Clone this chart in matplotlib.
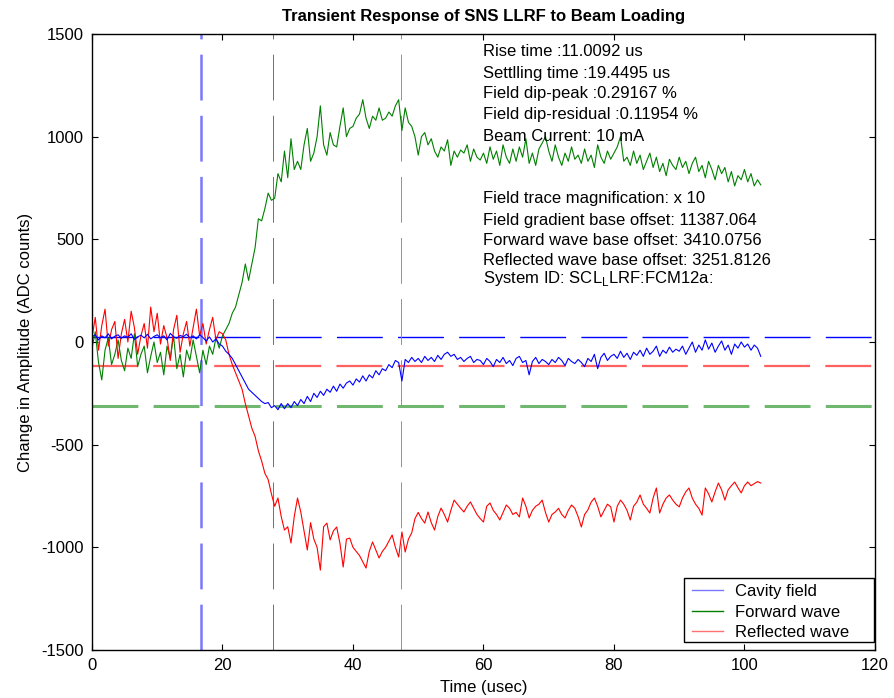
#! /usr/bin/env python3
import numpy as np
import matplotlib
matplotlib.use('Agg')
import matplotlib.pyplot as plt
from matplotlib.lines import Line2D
from matplotlib.patches import Rectangle

plt.rcParams['font.family'] = ['Liberation Sans', 'DejaVu Sans']
plt.rcParams['lines.scale_dashes'] = False
plt.rcParams['axes.unicode_minus'] = False

cavity = [
    25, 35, 10, 30, 20, 40, 15, 28, 35, 18,
    30, 22, 40, 12, 25, 33, 20, 38, 15, 27,
    35, 20, 30, 10, 42, 25, 18, 32, 26, 38,
    20, 30, 15, 35, 22, 5, 25, 0, 15, -10,
    -20, -45, -60, -80, -110, -140, -170, -200, -230, -245,
    -260, -275, -290, -300, -295, -320, -310, -330, -300, -325,
    -300, -320, -290, -310, -280, -300, -265, -290, -250, -270,
    -240, -260, -230, -245, -215, -240, -205, -225, -200, -190,
    -210, -180, -195, -165, -190, -160, -175, -140, -160, -130,
    -140, -110, -125, -90, -100, -190, -85, -100, -75, -95,
    -80, -100, -70, -90, -75, -95, -65, -85, -60, -50,
    -70, -60, -85, -75, -95, -80, -70, -100, -85, -90,
    -110, -80, -95, -120, -85, -100, -75, -105, -90, -115,
    -80, -70, -100, -90, -160, -95, -75, -105, -85, -95,
    -110, -85, -100, -75, -90, -115, -80, -95, -105, -85,
    -100, -120, -80, -95, -60, -130, -75, -55, -90, -70,
    -60, -80, -45, -75, -55, -85, -50, -65, -40, -70,
    -30, -60, -45, -20, -70, -40, -55, -25, -50, -35,
    -45, -20, -60, -30, 0, -50, -15, -40, 10, -35,
    -5, -50, -20, 5, -40, -15, -60, -10, -30, 0,
    -25, -10, -40, -15, -30, -70,
]

forward = [
    -30, 50, -100, -185, -40, 20, -110, -60, 10, -90,
    -140, -30, -80, 40, -120, -60, -20, -150, -70, 0,
    -100, -50, -160, -20, -80, 30, -130, -60, -170, -40,
    -90, 10, -70, -150, -40, -110, -20, -60, 20, -30,
    30, 60, 90, 140, 170, 230, 290, 380, 300, 380,
    460, 600, 590, 650, 725, 690, 700, 820, 780, 930,
    800, 990, 840, 880, 840, 960, 1040, 880, 920, 1000,
    1150, 960, 910, 1020, 960, 950, 1050, 1140, 1000, 1040,
    1050, 1090, 1110, 1180, 1090, 1040, 1100, 1080, 1140, 1080,
    1090, 1120, 1100, 1150, 1180, 1030, 1140, 1070, 1050, 1000,
    910, 1000, 1020, 960, 990, 930, 900, 950, 930, 985,
    860, 930, 900, 935, 920, 960, 880, 940, 900, 886,
    920, 870, 950, 890, 930, 860, 960, 900, 870, 940,
    880, 950, 900, 990, 870, 920, 860, 940, 969, 1000,
    930, 880, 960, 900, 860, 920, 880, 950, 890, 910,
    870, 940, 880, 910, 850, 960, 900, 870, 930, 890,
    920, 950, 1000, 880, 900, 860, 930, 870, 910, 840,
    880, 920, 850, 900, 830, 870, 810, 890, 860, 840,
    900, 850, 880, 820, 870, 900, 830, 860, 800, 880,
    840, 790, 860, 820, 850, 780, 830, 760, 810, 790,
    840, 780, 820, 760, 790, 765,
]

reflected = [
    20, 120, -40, 80, 160, -20, 60, 100, -80, 40,
    110, 0, 150, 70, -60, 30, 90, -30, 170, 50,
    140, -10, 80, 20, -90, 60, 130, -50, 40, 100,
    -20, 70, 160, 30, 90, -10, 60, 120, 10, 50,
    40, 10, -60, -110, -150, -190, -230, -300, -360, -420,
    -460, -530, -580, -640, -670, -740, -800, -760, -850, -916,
    -900, -979, -850, -760, -828, -920, -1013, -880, -960, -1000,
    -1111, -900, -882, -964, -920, -901, -980, -1096, -960, -955,
    -1000, -1020, -1040, -1070, -1101, -1020, -974, -1013, -1052, -1020,
    -1000, -970, -940, -1000, -1047, -925, -1023, -960, -930, -860,
    -830, -860, -882, -828, -880, -916, -850, -809, -840, -877,
    -820, -770, -790, -810, -828, -800, -779, -810, -840, -860,
    -877, -800, -784, -820, -840, -867, -830, -794, -810, -840,
    -830, -852, -760, -800, -857, -820, -800, -790, -770, -830,
    -877, -840, -828, -810, -840, -857, -820, -794, -810, -850,
    -901, -840, -818, -780, -760, -800, -852, -820, -790, -803,
    -877, -800, -770, -790, -820, -867, -800, -780, -745, -790,
    -810, -833, -760, -711, -833, -790, -760, -745, -770, -790,
    -803, -760, -730, -711, -760, -790, -810, -843, -711, -740,
    -779, -730, -687, -720, -770, -720, -700, -682, -710, -735,
    -700, -682, -700, -690, -680, -687,
]

t_end = 102.5
t = np.linspace(0, t_end, len(cavity))

# Marker levels / times
level_field = 23
level_refl = -115
level_fwd = -312
t_beam = 16.7
t_rise = 27.7
t_settle = 47.3

info_top = ['Rise time :11.0092 us', 'Settlling time :19.4495 us',
            'Field dip-peak :0.29167 %', 'Field dip-residual :0.11954 %',
            'Beam Current: 10 mA']
info_top_y = [1413, 1310, 1208, 1106, 1003]
info_bot = ['Field trace magnification: x 10',
            'Field gradient base offset: 11387.064',
            'Forward wave base offset: 3410.0756',
            'Reflected wave base offset: 3251.8126',
            'System ID: SCL$_\\mathregular{L}$LRF:FCM12a:']
info_bot_y = [697, 594, 492, 395, 310]

fs = 12

fig = plt.figure(figsize=(8.94, 6.98), dpi=100)
ax = fig.add_axes([0.1029, 0.0688, 0.8758, 0.8825])

dash = (33, 11)
ax.axhline(level_field, color='#0000ff', lw=1.0, dashes=dash)
ax.axhline(level_refl, color='#ff6060', lw=1.6, dashes=dash)
ax.axhline(level_fwd, color='#70b870', lw=2.2, dashes=dash)
ax.axvline(t_beam, color='#7878ff', lw=1.8, dashes=dash)
ax.axvline(t_rise, color='#4a8a4a', lw=0.7, dashes=dash)
ax.axvline(t_settle, color='#e07070', lw=0.7, dashes=dash)

ax.plot(t, forward, color='#008000', lw=0.8)
ax.plot(t, reflected, color='#ff0000', lw=0.8)
ax.plot(t, cavity, color='#0000ff', lw=0.8)

for s, y in zip(info_top, info_top_y):
    ax.text(60, y, s, fontsize=fs, va='center', ha='left')
for s, y in zip(info_bot, info_bot_y):
    ax.text(60, y, s, fontsize=fs, va='center', ha='left')

ax.set_xlim(0, 120)
ax.set_ylim(-1500, 1500)
ax.set_xticks(np.arange(0, 121, 20))
ax.set_yticks(np.arange(-1500, 1501, 500))
ax.tick_params(direction='in', length=4, top=True, right=True,
               labelsize=fs, pad=6)
for sp in ax.spines.values():
    sp.set_linewidth(1.0)

ax.set_xlabel('Time (usec)', fontsize=fs, labelpad=5)
ax.set_ylabel('Change in Amplitude (ADC counts)', fontsize=fs, labelpad=6)
ax.set_title('Transient Response of SNS LLRF to Beam Loading',
             fontsize=fs, fontweight='bold', pad=9)

# legend box drawn by hand (MATLAB style, wide right margin)
ax.add_patch(Rectangle((0.756, 0.013), 0.2427, 0.104, transform=ax.transAxes,
                       facecolor='white', edgecolor='black', lw=1.0,
                       zorder=5))
handles = [Line2D([], [], color='#7878ff', lw=1),
           Line2D([], [], color='#008000', lw=1),
           Line2D([], [], color='#ff7070', lw=1)]
leg = ax.legend(handles, ['Cavity field', 'Forward wave', 'Reflected wave'],
                loc='upper left', bbox_to_anchor=(0.766, 0.107),
                fontsize=fs, frameon=False, borderaxespad=0, borderpad=0,
                handlelength=1.9, handletextpad=0.7, labelspacing=0.33)
leg.set_zorder(6)

fig.savefig('out.png', dpi=100)
